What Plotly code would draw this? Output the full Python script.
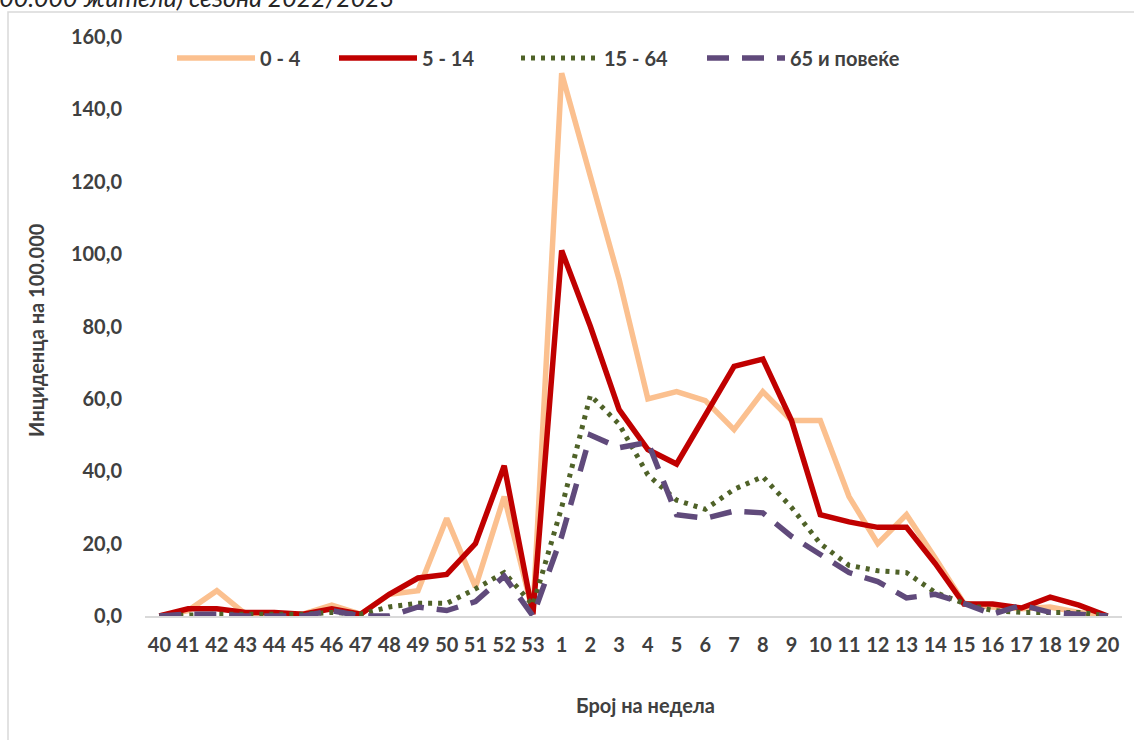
import plotly.graph_objects as go

weeks = ["40", "41", "42", "43", "44", "45", "46", "47", "48", "49", "50", "51", "52", "53",
         "1", "2", "3", "4", "5", "6", "7", "8", "9", "10", "11", "12", "13", "14", "15",
         "16", "17", "18", "19", "20"]

age_0_4 = [0, 1.5, 7, 0.5, 0.5, 0.5, 3, 0.5, 6, 7, 27, 8, 33, 1,
           150, 121, 93, 60, 62, 59.5, 51.5, 62, 54, 54, 33, 20, 28, 16, 3.5,
           2.5, 2, 2.5, 1, 0]
age_5_14 = [0, 2, 2, 1, 1, 0.5, 2, 0.5, 6, 10.5, 11.5, 20, 41.5, 0.5,
            101, 80, 57, 46, 42, 55.5, 69, 71, 54, 28, 26, 24.5, 24.5, 14.5, 3.3,
            3.3, 2.2, 5.2, 3, 0]
age_15_64 = [0, 0.3, 0.5, 0.5, 0.5, 0.5, 1, 0.5, 2.5, 3.5, 3.5, 7.5, 12, 3,
             30, 61, 53, 39, 32, 29.5, 35, 38.5, 30, 20, 14, 12.5, 12, 6.5, 3.5,
             1.5, 1, 1, 1, 0]
age_65 = [0, 0.5, 0.5, 0, 0, 0, 1.5, 0, 0, 2.5, 1.5, 4, 11, 0,
          22, 50, 46.5, 48, 28, 27, 29, 28.5, 22, 17, 12, 9.5, 5, 6, 3.5,
          0.5, 3, 1, 0.5, 0]

series_names = ["0 - 4", "5 - 14", "15 - 64", "65 и повеќе"]
y_ticks = [0, 20, 40, 60, 80, 100, 120, 140, 160]
y_ticktext = ["0,0", "20,0", "40,0", "60,0", "80,0", "100,0", "120,0", "140,0", "160,0"]

FONT = "Lato"
TXT = "#404040"
FS = 20

W, H = 1134, 740
L, R, T, B = 145, 12, 37, 124
pw = W - L - R
ph = H - T - B

def px_x(p):
    return (p - L) / pw

def px_y(p):
    return (H - B - p) / ph

styles = [
    dict(color="#FBC08F", width=5.5),
    dict(color="#C00000", width=5.5),
    dict(color="#4F6228", width=5, dash="4px,6px"),
    dict(color="#604A7B", width=5.5, dash="22px,13px"),
]
series_values = [age_0_4, age_5_14, age_15_64, age_65]
legend_ids = ["legend", "legend2", "legend3", "legend4"]
legend_px = [172, 334, 516, 702]

fig = go.Figure()
for name, vals, st, lid in zip(series_names, series_values, styles, legend_ids):
    fig.add_trace(go.Scatter(x=weeks, y=vals, name=name, mode="lines", line=st, legend=lid))

legend_layout = {}
for lid, lx in zip(legend_ids, legend_px):
    legend_layout[lid] = dict(orientation="h", x=px_x(lx), y=px_y(58),
                              xanchor="left", yanchor="middle",
                              font=dict(family=FONT, size=FS, color=TXT, weight="bold"),
                              bgcolor="rgba(0,0,0,0)", itemwidth=78)

fig.update_layout(
    width=W, height=H,
    margin=dict(l=L, r=R, t=T, b=B),
    paper_bgcolor="white", plot_bgcolor="white",
    font=dict(family=FONT, color=TXT, size=FS, weight="bold"),
    showlegend=True,
    xaxis=dict(type="category", range=[-0.5, len(weeks) - 0.5], showgrid=False,
               showline=True, linecolor="#D9D9D9", linewidth=2, ticks="",
               tickfont=dict(family=FONT, size=FS, color=TXT, weight="bold"),
               ticklabelstandoff=10, zeroline=False),
    yaxis=dict(range=[0, 160], tickvals=y_ticks, ticktext=y_ticktext, showgrid=False,
               showline=False, zeroline=False, ticks="",
               tickfont=dict(family=FONT, size=FS, color=TXT, weight="bold"),
               ticklabelstandoff=22),
    **legend_layout,
)

# axis titles
fig.add_annotation(xref="paper", yref="paper", x=px_x(645), y=px_y(705),
                   xanchor="center", yanchor="middle", showarrow=False,
                   text="Број на недела",
                   font=dict(family=FONT, size=FS, color=TXT, weight="bold"))
fig.add_annotation(xref="paper", yref="paper", x=px_x(36), y=px_y(330),
                   xanchor="center", yanchor="middle", showarrow=False, textangle=-90,
                   text="Инциденца на 100.000",
                   font=dict(family=FONT, size=FS, color=TXT, weight="bold"))

# chart-area border (partially visible)
fig.add_shape(type="rect", xref="paper", yref="paper",
              x0=px_x(8), x1=px_x(1150), y0=px_y(760), y1=px_y(12),
              line=dict(color="#D9D9D9", width=1.5), fillcolor="rgba(0,0,0,0)", layer="below")

# cut-off caption above the chart
fig.add_annotation(xref="paper", yref="paper", x=px_x(396), y=px_y(-3),
                   xanchor="right", yanchor="middle", showarrow=False,
                   text="<i>групи (на 100.000 жители) сезона 2022/2023</i>",
                   font=dict(family=FONT, size=25, color="#262626", weight="normal"))

fig.write_html("out.html", config={"displayModeBar": False},
               post_script="document.body.style.margin='0';")
